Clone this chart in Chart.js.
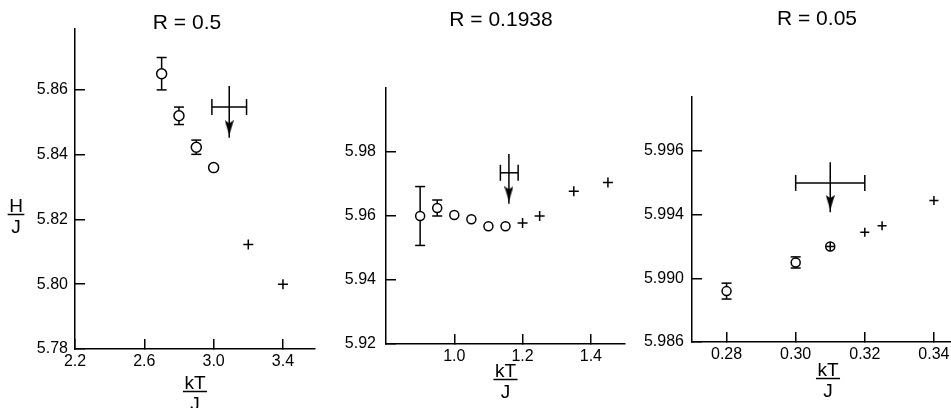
<!DOCTYPE html>
<html>
<head>
<meta charset="utf-8">
<script src="https://cdn.jsdelivr.net/npm/chart.js@4.4.1/dist/chart.umd.min.js"></script>
<style>
  body { margin: 0; background: #fff; overflow: hidden; }
  #wrap { position: relative; width: 951px; height: 408px; overflow: hidden; background: #fff; }
  canvas { position: absolute; top: 0; }
</style>
</head>
<body>
<div id="wrap">
  <canvas id="c1" width="374" height="420" style="left:0px"></canvas>
  <canvas id="c2" width="342" height="420" style="left:330px"></canvas>
  <canvas id="c3" width="354" height="420" style="left:640px"></canvas>
</div>
<script>
var titles = ['R = 0.5', 'R = 0.1938', 'R = 0.05'];
var xTitle = ['kT', 'J'];
var yTitle = ['H', 'J'];

// R = 0.5
var p1CircX = [2.7, 2.8, 2.9, 3.0];
var p1CircY = [5.865, 5.852, 5.8423, 5.836];
var p1Err = [0.005, 0.0027, 0.0022, 0];
var p1PlusX = [3.2, 3.4];
var p1PlusY = [5.8123, 5.800];

// R = 0.1938
var p2CircX = [0.9, 0.95, 1.0, 1.05, 1.1, 1.15];
var p2CircY = [5.960, 5.9625, 5.9603, 5.959, 5.9568, 5.9568];
var p2Err = [0.0092, 0.0025, 0, 0, 0, 0];
var p2PlusX = [1.2, 1.25, 1.35, 1.45];
var p2PlusY = [5.9578, 5.960, 5.9677, 5.9705];

// R = 0.05 (the last point is drawn as a circle with a cross inside)
var p3CircX = [0.28, 0.30, 0.31];
var p3CircY = [5.9892, 5.991, 5.992];
var p3Err = [0.0005, 0.00035, 0];
var p3PlusX = [0.32, 0.325, 0.34];
var p3PlusY = [5.9929, 5.9933, 5.9949];
var p3InnerX = [0.31];
var p3InnerY = [5.992];

// arrow markers, one per panel
var arrowX = [3.09, 1.16, 0.31];
var arrowY = [5.8547, 5.9735, 5.996];
var arrowXLo = [2.99, 1.135, 0.30];
var arrowXHi = [3.19, 1.187, 0.32];
var arrowTop = [5.8612, 5.9794, 5.9973];
var arrowTip = [5.846, 5.9646, 5.9943];

// axes
var xMin = [2.2, 0.8, 0.27];
var xMax = [3.585, 1.5, 0.3487];
var yMin = [5.78, 5.92, 5.986];
var yMax = [5.8788, 6.0, 6.0014];
var xTicks = [[2.2, 2.6, 3.0, 3.4], [1.0, 1.2, 1.4], [0.28, 0.30, 0.32, 0.34]];
var xTickLabels = [['2.2', '2.6', '3.0', '3.4'], ['1.0', '1.2', '1.4'], ['0.28', '0.30', '0.32', '0.34']];
var yTicks = [[5.78, 5.80, 5.82, 5.84, 5.86], [5.92, 5.94, 5.96, 5.98], [5.986, 5.990, 5.994, 5.998]];
var yTickLabels = [['5.78', '5.80', '5.82', '5.84', '5.86'], ['5.92', '5.94', '5.96', '5.98'], ['5.986', '5.990', '5.994', '5.996']];

// layout of each panel inside its canvas
var layouts = [
  { canvas: 'c1', w: 374, left: 75, right: 315, top: 29, bottom: 349, titleX: 187, titleBase: 29, yGap: 7, fracDy: 40, circR: 5, plusR: 5, yLabel: [16, 212] },
  { canvas: 'c2', w: 342, left: 56, right: 295, top: 88, bottom: 344, titleX: 171, titleBase: 26, yGap: 10, fracDy: 33, circR: 4.5, plusR: 5 },
  { canvas: 'c3', w: 354, left: 52, right: 324, top: 97, bottom: 342, titleX: 177, titleBase: 25, yGap: 8, fracDy: 34, circR: 4.5, plusR: 4.5 }
];
var CANVAS_H = 420;
var FONT = '"Liberation Sans", Arial, sans-serif';

Chart.defaults.font.family = FONT;
Chart.defaults.color = '#000';

function makeHead(w, h) {
  // arrow head drawn in the top half so its tip sits on the point
  var c = document.createElement('canvas');
  c.width = w;
  c.height = h * 2;
  var g = c.getContext('2d');
  g.fillStyle = '#000';
  g.beginPath();
  g.moveTo(0, 0);
  g.lineTo(w / 2, h * 0.2);
  g.lineTo(w, 0);
  g.lineTo(w / 2, h);
  g.closePath();
  g.fill();
  return c;
}

function seg(points, capStyle, capRot, capR, order) {
  return {
    data: points,
    showLine: true,
    borderColor: '#000',
    borderWidth: 1.5,
    fill: false,
    pointStyle: capStyle,
    rotation: capRot,
    pointRadius: capR,
    pointBorderColor: '#000',
    pointBorderWidth: 1.5,
    order: order
  };
}

function markers(xs, ys, style, r, order) {
  return {
    data: xs.map(function (x, k) { return { x: x, y: ys[k] }; }),
    showLine: false,
    pointStyle: style,
    pointRadius: r,
    pointBorderWidth: 1.5,
    pointBorderColor: '#000',
    pointBackgroundColor: '#fff',
    order: order
  };
}

function panelDatasets(i, circX, circY, err, plusX, plusY) {
  var L = layouts[i];
  var ds = [];
  for (var k = 0; k < circX.length; k++) {
    if (!err[k]) continue;
    ds.push(seg([{ x: circX[k], y: circY[k] - err[k] }, { x: circX[k], y: circY[k] + err[k] }], 'line', 0, 5, 2));
  }
  ds.push(markers(circX, circY, 'circle', L.circR, 1));
  ds.push(markers(plusX, plusY, 'cross', L.plusR, 0));
  ds.push(seg([{ x: arrowXLo[i], y: arrowY[i] }, { x: arrowXHi[i], y: arrowY[i] }], 'line', 90, 8, 2));
  ds.push(seg([{ x: arrowX[i], y: arrowTop[i] }, { x: arrowX[i], y: arrowTip[i] - (arrowTop[i] - arrowTip[i]) * 0.05 }], 'circle', 0, 0, 2));
  ds.push({
    data: [{ x: arrowX[i], y: arrowTip[i] }],
    showLine: false,
    pointStyle: makeHead(9, 15),
    pointRadius: 8,
    order: 0
  });
  return ds;
}

function drawFrac(ctx, parts, cx, base) {
  ctx.fillText(parts[0], cx, base);
  var w = ctx.measureText(parts[0]).width + 3;
  ctx.beginPath();
  ctx.moveTo(cx - w / 2, base + 2.5);
  ctx.lineTo(cx + w / 2, base + 2.5);
  ctx.stroke();
  ctx.fillText(parts[1], cx, base + 21);
}

// panel title and the kT/J, H/J fraction labels
var labelPlugin = {
  id: 'labels',
  afterDraw: function (chart, args, opts) {
    var ctx = chart.ctx;
    var a = chart.chartArea;
    ctx.save();
    ctx.fillStyle = '#000';
    ctx.strokeStyle = '#000';
    ctx.lineWidth = 1.5;
    ctx.textAlign = 'center';
    ctx.textBaseline = 'alphabetic';
    ctx.font = '21px ' + FONT;
    ctx.fillText(opts.title, opts.titleX, opts.titleBase);
    ctx.font = '19px ' + FONT;
    drawFrac(ctx, xTitle, (a.left + a.right) / 2, a.bottom + opts.dy);
    if (opts.yLabel) drawFrac(ctx, yTitle, opts.yLabel[0], opts.yLabel[1]);
    ctx.restore();
  }
};

function makeChart(i, datasets) {
  var L = layouts[i];
  return new Chart(document.getElementById(L.canvas), {
    type: 'scatter',
    data: { datasets: datasets },
    options: {
      responsive: false,
      animation: false,
      devicePixelRatio: 1,
      events: [],
      layout: { padding: { left: 0, right: L.w - L.right, top: L.top, bottom: 0 } },
      plugins: {
        legend: { display: false },
        tooltip: { enabled: false },
        title: { display: false },
        labels: { title: titles[i], titleX: L.titleX, titleBase: L.titleBase, dy: L.fracDy, yLabel: L.yLabel }
      },
      scales: {
        x: {
          type: 'linear',
          min: xMin[i],
          max: xMax[i],
          afterBuildTicks: function (s) { s.ticks = xTicks[i].map(function (v) { return { value: v }; }); },
          afterFit: function (s) { s.height = CANVAS_H - L.bottom; },
          border: { color: '#000', width: 1.5 },
          grid: { drawOnChartArea: false, color: '#000', lineWidth: 1.5, tickLength: -10 },
          ticks: {
            color: '#000', font: { size: 16 }, padding: 13, autoSkip: false, maxRotation: 0,
            callback: function (v, k) { return xTickLabels[i][k]; }
          }
        },
        y: {
          type: 'linear',
          min: yMin[i],
          max: yMax[i],
          afterBuildTicks: function (s) { s.ticks = yTicks[i].map(function (v) { return { value: v }; }); },
          afterFit: function (s) { s.width = L.left; },
          border: { color: '#000', width: 1.5 },
          grid: { drawOnChartArea: false, color: '#000', lineWidth: 1.5, tickLength: -10 },
          ticks: {
            color: '#000', font: { size: 16 }, padding: 10 + L.yGap, autoSkip: false,
            callback: function (v, k) { return yTickLabels[i][k]; }
          }
        }
      }
    },
    plugins: [labelPlugin]
  });
}

var ds1 = panelDatasets(0, p1CircX, p1CircY, p1Err, p1PlusX, p1PlusY);
var ds2 = panelDatasets(1, p2CircX, p2CircY, p2Err, p2PlusX, p2PlusY);
var ds3 = panelDatasets(2, p3CircX, p3CircY, p3Err, p3PlusX, p3PlusY);
ds3.push(markers(p3InnerX, p3InnerY, 'cross', layouts[2].circR, 0));

makeChart(0, ds1);
makeChart(1, ds2);
makeChart(2, ds3);
</script>
</body>
</html>
